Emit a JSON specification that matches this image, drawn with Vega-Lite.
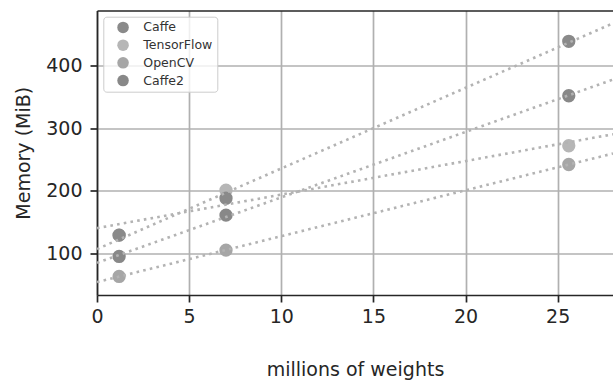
{
  "$schema": "https://vega.github.io/schema/vega-lite/v6.json",
  "autosize": {"type": "none"},
  "padding": {"left": 97, "top": 10.5, "right": 0, "bottom": 87},
  "width": 516,
  "height": 284.5,
  "data": {
    "values": [
      {"framework": "TensorFlow", "weights": 1.2, "memory": 129},
      {"framework": "TensorFlow", "weights": 7.0, "memory": 201},
      {"framework": "TensorFlow", "weights": 25.6, "memory": 272},
      {"framework": "OpenCV", "weights": 1.2, "memory": 63},
      {"framework": "OpenCV", "weights": 7.0, "memory": 105},
      {"framework": "OpenCV", "weights": 25.6, "memory": 242},
      {"framework": "Caffe2", "weights": 1.2, "memory": 95},
      {"framework": "Caffe2", "weights": 7.0, "memory": 161},
      {"framework": "Caffe2", "weights": 25.6, "memory": 352},
      {"framework": "Caffe", "weights": 1.2, "memory": 129},
      {"framework": "Caffe", "weights": 7.0, "memory": 188},
      {"framework": "Caffe", "weights": 25.6, "memory": 439}
    ]
  },
  "layer": [
    {
      "mark": {"type": "point", "filled": true, "shape": "circle", "size": 177, "opacity": 1},
      "encoding": {
        "x": {
          "field": "weights", "type": "quantitative",
          "scale": {"domain": [0, 28], "nice": false, "zero": false},
          "axis": {"values": [0, 5, 10, 15, 20, 25], "title": "millions of weights", "titlePadding": 34, "labelPadding": 5, "orient": "bottom", "labelFlush": false}
        },
        "y": {
          "field": "memory", "type": "quantitative",
          "scale": {"domain": [33.3, 488.3], "nice": false, "zero": false},
          "axis": {"values": [100, 200, 300, 400], "title": "Memory (MiB)", "titlePadding": 12, "labelPadding": 8}
        },
        "color": {
          "field": "framework", "type": "nominal",
          "scale": {
            "domain": ["Caffe", "TensorFlow", "OpenCV", "Caffe2"],
            "range": ["#8a8a8a", "#b6b6b6", "#a6a6a6", "#888888"]
          },
          "legend": {
            "title": null,
            "orient": "none",
            "legendX": 6.3,
            "legendY": 6.2,
            "symbolType": "circle",
            "symbolSize": 133,
            "symbolOpacity": 1,
            "symbolStrokeWidth": 0,
            "symbolOffset": 9,
            "labelOffset": 14,
            "labelFontSize": 12.5,
            "labelFont": "DejaVu Sans",
            "labelColor": "#333333",
            "rowPadding": 4.7,
            "padding": 4.5,
            "strokeColor": "#cccccc",
            "fillColor": "rgba(255,255,255,0.8)",
            "cornerRadius": 3
          }
        }
      }
    },
    {
      "transform": [
        {"regression": "memory", "on": "weights", "groupby": ["framework"], "extent": [0, 28]}
      ],
      "mark": {"type": "line", "strokeDash": [2.6, 4.2], "strokeWidth": 2.6, "color": "#b3b3b3", "clip": true},
      "encoding": {
        "x": {
          "field": "weights", "type": "quantitative",
          "axis": {"orient": "top", "labels": false, "ticks": false, "grid": false, "title": null, "domain": true}
        },
        "y": {"field": "memory", "type": "quantitative"},
        "detail": {"field": "framework", "type": "nominal"}
      }
    }
  ],
  "resolve": {"axis": {"x": "independent"}},
  "config": {
    "view": {"stroke": null},
    "axis": {
      "labelFont": "DejaVu Sans",
      "labelFontSize": 19,
      "labelColor": "#262626",
      "titleFont": "DejaVu Sans",
      "titleFontSize": 19,
      "titleFontWeight": "normal",
      "titleColor": "#262626",
      "domainColor": "#262626",
      "domainWidth": 1.7,
      "tickColor": "#262626",
      "tickWidth": 1.7,
      "tickSize": 7,
      "gridColor": "#b0b0b0",
      "gridWidth": 1.7,
      "gridOpacity": 1
    }
  }
}
